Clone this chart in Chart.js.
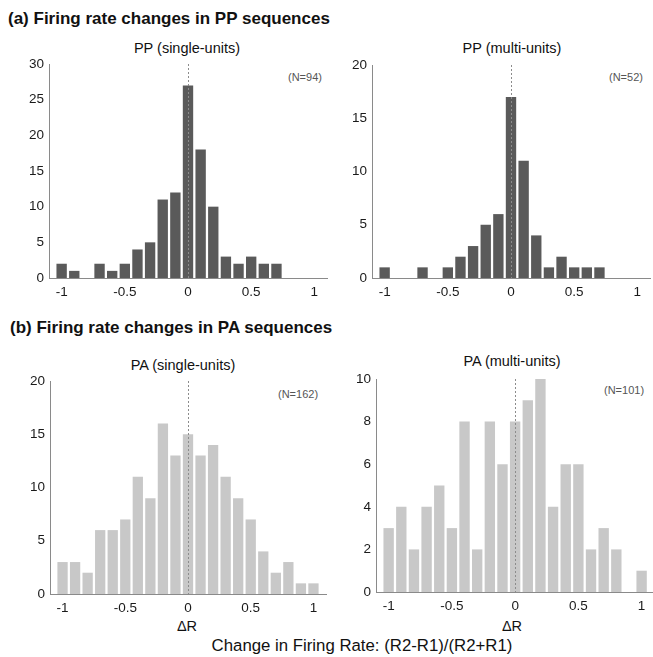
<!DOCTYPE html>
<html><head><meta charset="utf-8">
<script src="https://cdn.jsdelivr.net/npm/chart.js@4/dist/chart.umd.min.js"></script>
<style>
html,body{margin:0;padding:0;background:#fff}
body{width:653px;height:657px;position:relative;overflow:hidden;font-family:"Liberation Sans",Arial,sans-serif}
canvas{position:absolute}
.t{position:absolute;white-space:nowrap;color:#111;line-height:1}
.h{font-weight:bold;font-size:17px;transform:translateY(-50%)}
.s{font-size:14.5px;transform:translate(-50%,-50%)}
.n{font-size:11px;color:#555;transform:translateY(-50%)}
</style></head><body>

<div class="t h" style="left:8px;top:18px">(a) Firing rate changes in PP sequences</div>
<div class="t h" style="left:10px;top:327px">(b) Firing rate changes in PA sequences</div>

<div class="t s" style="left:187px;top:48px">PP (single-units)</div>
<div class="t s" style="left:512px;top:48px">PP (multi-units)</div>
<div class="t s" style="left:183px;top:365px">PA (single-units)</div>
<div class="t s" style="left:512px;top:361px">PA (multi-units)</div>

<div class="t n" style="left:288px;top:77px">(N=94)</div>
<div class="t n" style="left:609px;top:77px">(N=52)</div>
<div class="t n" style="left:278px;top:394px">(N=162)</div>
<div class="t n" style="left:604px;top:390px">(N=101)</div>

<div class="t s" style="left:187px;top:626px">ΔR</div>
<div class="t s" style="left:512px;top:626px">ΔR</div>
<div class="t s" style="left:362px;top:646px;font-size:16.8px">Change in Firing Rate: (R2-R1)/(R2+R1)</div>

<canvas id="c1" width="330" height="290" style="left:0;top:30px;width:330px;height:290px"></canvas>
<canvas id="c2" width="323" height="290" style="left:330px;top:30px;width:323px;height:290px"></canvas>
<canvas id="c3" width="330" height="300" style="left:0;top:340px;width:330px;height:300px"></canvas>
<canvas id="c4" width="323" height="300" style="left:330px;top:340px;width:323px;height:300px"></canvas>

<script>
// Bin centres of the ΔR histograms
const BIN_CENTERS = [-1.0,-0.9,-0.8,-0.7,-0.6,-0.5,-0.4,-0.3,-0.2,-0.1,0.0,0.1,0.2,0.3,0.4,0.5,0.6,0.7,0.8,0.9,1.0];
// Counts per bin
const PP_SINGLE = [2,1,0,2,1,2,4,5,11,12,27,18,10,3,2,3,2,2,0,0,0];
const PP_MULTI  = [1,0,0,1,0,1,2,3,5,6,17,11,4,1,2,1,1,1,0,0,0];
const PA_SINGLE = [3,3,2,6,6,7,11,9,16,13,15,13,14,11,9,7,4,2,3,1,1];
const PA_MULTI  = [3,4,2,4,5,3,8,2,8,6,8,9,10,4,6,6,2,3,2,0,1];
// Tick labels
const X_TICKS = [-1,-0.5,0,0.5,1];
const Y_TICKS_PP_SINGLE = [0,5,10,15,20,25,30];
const Y_TICKS_PP_MULTI  = [0,5,10,15,20];
const Y_TICKS_PA_SINGLE = [0,5,10,15,20];
const Y_TICKS_PA_MULTI  = [0,2,4,6,8,10];

const zeroLine = {
  id:'zeroLine',
  afterDatasetsDraw(chart){
    const {ctx, chartArea, scales} = chart;
    const x = Math.round(scales.x.getPixelForValue(0)) + 0.5;
    ctx.save();
    ctx.strokeStyle = '#8c8c8c';
    ctx.lineWidth = 1;
    ctx.setLineDash([2,2]);
    ctx.beginPath();
    ctx.moveTo(x, chartArea.top);
    ctx.lineTo(x, chartArea.bottom);
    ctx.stroke();
    ctx.restore();
  }
};

function makeChart(id, counts, yTicks, color, g){
  const pts = BIN_CENTERS.map((c,i)=>({x:c, y:counts[i]}));
  const yMax = yTicks[yTicks.length-1];
  return new Chart(document.getElementById(id), {
    type:'bar',
    data:{datasets:[{data:pts, backgroundColor:color, borderWidth:0,
      barPercentage:0.82, categoryPercentage:1.0}]},
    options:{
      responsive:false, animation:false,
      layout:{padding:{top:g.top, right:g.right, left:0, bottom:0}},
      plugins:{legend:{display:false}, tooltip:{enabled:false}, title:{display:false}},
      scales:{
        x:{type:'linear', min:-1.1, max:g.xmax, offset:false,
          grid:{display:false, drawTicks:false},
          border:{display:true, color:'#8a8a8a', width:1},
          afterBuildTicks(s){ s.ticks = X_TICKS.map(v=>({value:v})); },
          afterFit(s){ s.height = g.xh; },
          ticks:{color:'#1a1a1a', font:{family:'"Liberation Sans", Arial, sans-serif', size:13.5}, padding:6,
            maxRotation:0, autoSkip:false, callback:(v)=>String(v)}
        },
        y:{min:0, max:yMax,
          grid:{display:false, drawTicks:false},
          border:{display:true, color:'#8a8a8a', width:1},
          afterBuildTicks(s){ s.ticks = yTicks.map(v=>({value:v})); },
          afterFit(s){ s.width = g.yw; },
          ticks:{color:'#1a1a1a', font:{family:'"Liberation Sans", Arial, sans-serif', size:13.5}, padding:5}
        }
      }
    },
    plugins:[zeroLine]
  });
}

const DARK = '#5a5a5a', LIGHT = '#c8c8c8';
makeChart('c1', PP_SINGLE, Y_TICKS_PP_SINGLE, DARK,  {top:34, right:3, yw:49, xh:42, xmax:1.1});
makeChart('c2', PP_MULTI,  Y_TICKS_PP_MULTI,  DARK,  {top:35, right:3, yw:42, xh:42, xmax:1.1});
makeChart('c3', PA_SINGLE, Y_TICKS_PA_SINGLE, LIGHT, {top:41, right:4, yw:50, xh:46, xmax:1.1});
makeChart('c4', PA_MULTI,  Y_TICKS_PA_MULTI,  LIGHT, {top:39, right:0, yw:46, xh:48, xmax:1.09});
</script>
</body></html>
